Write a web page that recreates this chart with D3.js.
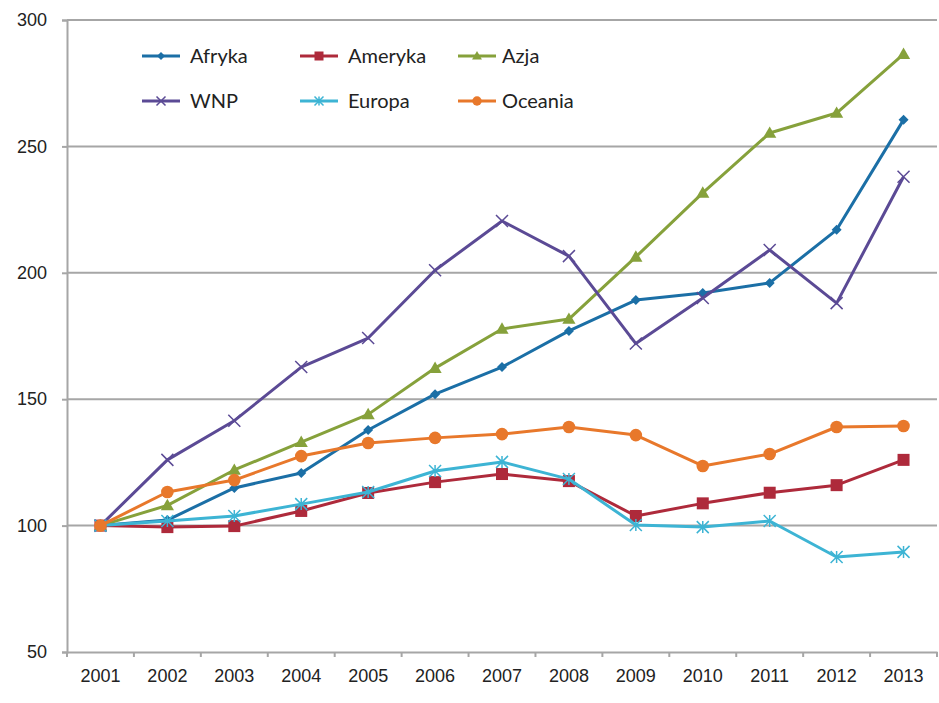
<!DOCTYPE html>
<html>
<head>
<meta charset="utf-8">
<script src="https://cdn.jsdelivr.net/npm/d3@7"></script>
<style>
  body { margin: 0; background: #fff; }
  svg { display: block; }
</style>
</head>
<body>
<div id="chart"></div>
<script>
const svgWidth = 939;
const svgHeight = 703;

// data
const years = ["2001","2002","2003","2004","2005","2006","2007","2008","2009","2010","2011","2012","2013"];
const afryka  = [100, 102.2, 114.9, 120.8, 137.8, 152.0, 162.7, 177.0, 189.2, 192.0, 196.0, 217.0, 260.5];
const ameryka = [100, 99.4, 99.8, 105.8, 112.9, 117.2, 120.4, 117.6, 103.8, 108.8, 113.0, 116.0, 126.0];
const azja    = [100, 108.0, 122.0, 133.0, 144.0, 162.3, 177.8, 181.7, 206.3, 231.6, 255.3, 263.2, 286.5];
const wnp     = [100, 126.0, 141.5, 162.7, 174.2, 201.0, 220.5, 206.6, 172.0, 190.0, 209.0, 188.0, 238.0];
const europa  = [100, 101.8, 103.8, 108.5, 113.3, 121.6, 125.2, 118.4, 100.2, 99.4, 101.8, 87.6, 89.6];
const oceania = [100, 113.3, 118.0, 127.5, 132.7, 134.7, 136.2, 139.0, 135.8, 123.6, 128.3, 139.0, 139.4];
const yTicks = [50, 100, 150, 200, 250, 300];

const series = [
  { name: "Afryka",  values: afryka,  color: "#1b6fa6", marker: "diamond" },
  { name: "Ameryka", values: ameryka, color: "#ae2a3b", marker: "square" },
  { name: "Azja",    values: azja,    color: "#86a13b", marker: "triangle" },
  { name: "WNP",     values: wnp,     color: "#5b4a95", marker: "x" },
  { name: "Europa",  values: europa,  color: "#3db4d4", marker: "star" },
  { name: "Oceania", values: oceania, color: "#e8782b", marker: "circle" }
];

const svg = d3.select("#chart").append("svg")
  .attr("width", svgWidth)
  .attr("height", svgHeight);

const x = d3.scaleBand().domain(years).range([67, 937]).padding(0);
const y = d3.scaleLinear().domain([50, 300]).range([652, 20]);

// gridlines
svg.append("g")
  .selectAll("line")
  .data(yTicks.filter(d => d > 50))
  .enter().append("line")
  .attr("x1", 67).attr("x2", 937)
  .attr("y1", d => y(d)).attr("y2", d => y(d))
  .attr("stroke", "#a6a6a6")
  .attr("stroke-width", 2);

// y axis
const yAxis = svg.append("g")
  .attr("transform", "translate(67,0)")
  .call(d3.axisLeft(y).tickValues(yTicks).tickSize(5).tickPadding(15));
yAxis.select(".domain").attr("stroke", "#a6a6a6").attr("stroke-width", 2);
yAxis.selectAll(".tick line").attr("stroke", "#a6a6a6").attr("stroke-width", 2);
yAxis.selectAll("text")
  .attr("font-family", "'Liberation Sans', Arial, sans-serif")
  .attr("font-size", 18)
  .attr("fill", "#222");

// x axis, ticks on band edges
const xAxis = svg.append("g")
  .attr("transform", "translate(0,652)")
  .call(d3.axisBottom(x).tickSize(0).tickPadding(17));
xAxis.select(".domain").attr("stroke", "#a6a6a6").attr("stroke-width", 2);
xAxis.selectAll("text")
  .attr("font-family", "'Liberation Sans', Arial, sans-serif")
  .attr("font-size", 18)
  .attr("fill", "#222");
xAxis.selectAll(".edge")
  .data(years.map(d => x(d)).concat([x.range()[1]]))
  .enter().append("line")
  .attr("class", "edge")
  .attr("x1", d => d).attr("x2", d => d)
  .attr("y1", 0).attr("y2", 5)
  .attr("stroke", "#a6a6a6")
  .attr("stroke-width", 2);

const cx = d => x(d) + x.bandwidth() / 2;

function drawMarker(g, type, color, size) {
  const s = size;
  if (type === "diamond") {
    g.append("path").attr("d", `M0,${-s}L${s},0L0,${s}L${-s},0Z`).attr("fill", color);
  } else if (type === "square") {
    g.append("rect").attr("x", -s).attr("y", -s).attr("width", 2 * s).attr("height", 2 * s).attr("fill", color);
  } else if (type === "triangle") {
    g.append("path").attr("d", `M0,${-s * 1.1}L${s * 1.1},${s * 0.8}L${-s * 1.1},${s * 0.8}Z`).attr("fill", color);
  } else if (type === "circle") {
    g.append("circle").attr("r", s * 1.05).attr("fill", color);
  } else if (type === "x") {
    g.append("path").attr("d", `M${-s},${-s}L${s},${s}M${-s},${s}L${s},${-s}`)
      .attr("stroke", color).attr("stroke-width", 1.5).attr("fill", "none");
  } else if (type === "star") {
    g.append("path").attr("d", `M${-s},${-s}L${s},${s}M${-s},${s}L${s},${-s}M0,${-s}L0,${s}`)
      .attr("stroke", color).attr("stroke-width", 1.5).attr("fill", "none");
  }
}

const line = d3.line()
  .x((d, i) => cx(years[i]))
  .y(d => y(d));

series.forEach(s => {
  const g = svg.append("g");
  g.append("path")
    .datum(s.values)
    .attr("d", line)
    .attr("fill", "none")
    .attr("stroke", s.color)
    .attr("stroke-width", 3)
    .attr("stroke-linejoin", "round");
  s.values.forEach((v, i) => {
    const m = g.append("g").attr("transform", `translate(${cx(years[i])},${y(v)})`);
    drawMarker(m, s.marker, s.color, s.marker === "diamond" ? 5 : 6);
  });
});

// legend
const legendCols = [142, 300, 458];
const legendRows = [56, 101];
series.forEach((s, i) => {
  const lx = legendCols[i % 3];
  const ly = legendRows[Math.floor(i / 3)];
  const g = svg.append("g").attr("transform", `translate(${lx},${ly})`);
  g.append("line").attr("x1", 0).attr("x2", 38).attr("y1", 0).attr("y2", 0)
    .attr("stroke", s.color).attr("stroke-width", 3);
  const m = g.append("g").attr("transform", "translate(19,0)");
  drawMarker(m, s.marker, s.color, s.marker === "diamond" ? 4 : 4.5);
  g.append("text")
    .attr("x", i % 3 === 2 ? 44 : 48)
    .attr("y", 0)
    .attr("dy", "0.35em")
    .attr("font-family", "Lato, 'Open Sans', sans-serif")
    .attr("font-size", 20)
    .attr("fill", "#222")
    .text(s.name);
});
</script>
</body>
</html>
